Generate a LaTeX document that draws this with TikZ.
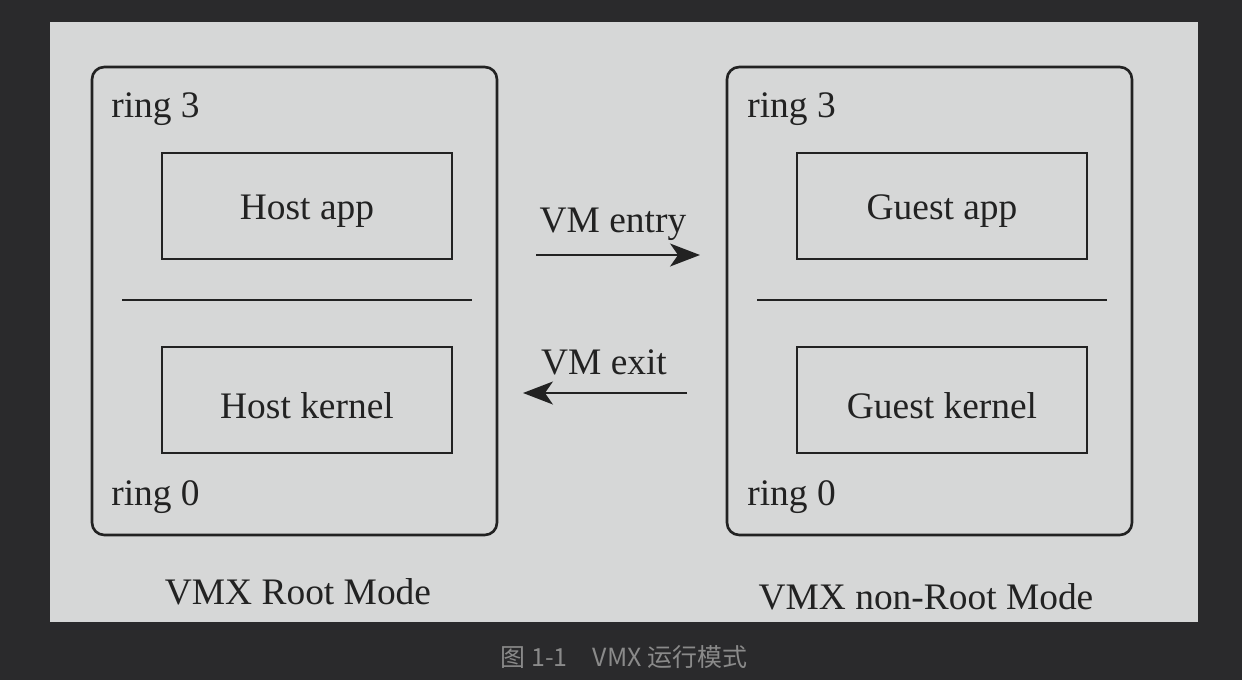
\documentclass[tikz,border=0pt]{standalone}
\usepackage{fontspec}
\setmainfont{Liberation Serif}
\newfontfamily\cjk{Noto Sans CJK SC}
\usetikzlibrary{arrows.meta}
\definecolor{bgdark}{HTML}{2A2A2C}
\definecolor{panel}{HTML}{D6D7D7}
\definecolor{ink}{HTML}{222222}
\definecolor{capgray}{HTML}{8A8A8A}
\tikzset{
  outerbox/.style={draw=ink, line width=1.5pt, rounded corners=7pt},
  innerbox/.style={draw=ink, line width=1.4pt, minimum width=5.8cm, minimum height=2.12cm},
  sepline/.style={draw=ink, line width=1.3pt},
  lbl/.style={font=\fontsize{21.3pt}{25pt}\selectfont, text=ink, inner sep=0pt},
  flow/.style={draw=ink, line width=1.4pt, -{Stealth[length=17pt,width=13pt,inset=4.5pt]}},
}
\begin{document}
\begin{tikzpicture}[x=0.02cm,y=-0.02cm]
\fill[bgdark] (0,0) rectangle (1242,680);
\fill[panel] (50,22) rectangle (1198,622);
% left side
\draw[outerbox] (92,67) rectangle (497,535);
\node[innerbox] (happ) at (307,206) {};
\node[lbl] (happt) at ([yshift=-0.11cm]happ.center) {Host app};
\node[innerbox] (hker) at (307,400) {};
\node[lbl] (hkert) at ([yshift=-0.11cm]hker.center) {Host kernel};
\draw[sepline] (122,300) -- (472,300);
\node[lbl, anchor=west] (lr3) at (111,109) {ring 3};
\node[lbl, anchor=west] (lr0) at (111,497) {ring 0};
\node[lbl] (lmode) at (298,592) {VMX Root Mode};
% right side
\draw[outerbox] (727,67) rectangle (1132,535);
\node[innerbox] (gapp) at (942,206) {};
\node[lbl] (gappt) at ([yshift=-0.11cm]gapp.center) {Guest app};
\node[innerbox] (gker) at (942,400) {};
\node[lbl] (gkert) at ([yshift=-0.11cm]gker.center) {Guest kernel};
\draw[sepline] (757,300) -- (1107,300);
\node[lbl, anchor=west] (rr3) at (747,109) {ring 3};
\node[lbl, anchor=west] (rr0) at (747,497) {ring 0};
\node[lbl] (rmode) at (926,597) {VMX non-Root Mode};
% arrows
\node[lbl] (entry) at (613,224) {VM entry};
\node[lbl] (exit) at (604,362) {VM exit};
\coordinate (e1) at (536,255);
\coordinate (e2) at (700,255);
\coordinate (x1) at (687,393);
\coordinate (x2) at (523,393);
\draw[flow] (e1) -- (e2);
\draw[flow] (x1) -- (x2);
% caption
\node[font=\cjk\fontsize{14.2pt}{17pt}\selectfont, text=capgray, inner sep=0pt] (cap) at (624,657) {图 1-1\quad VMX 运行模式};
\end{tikzpicture}
\end{document}
